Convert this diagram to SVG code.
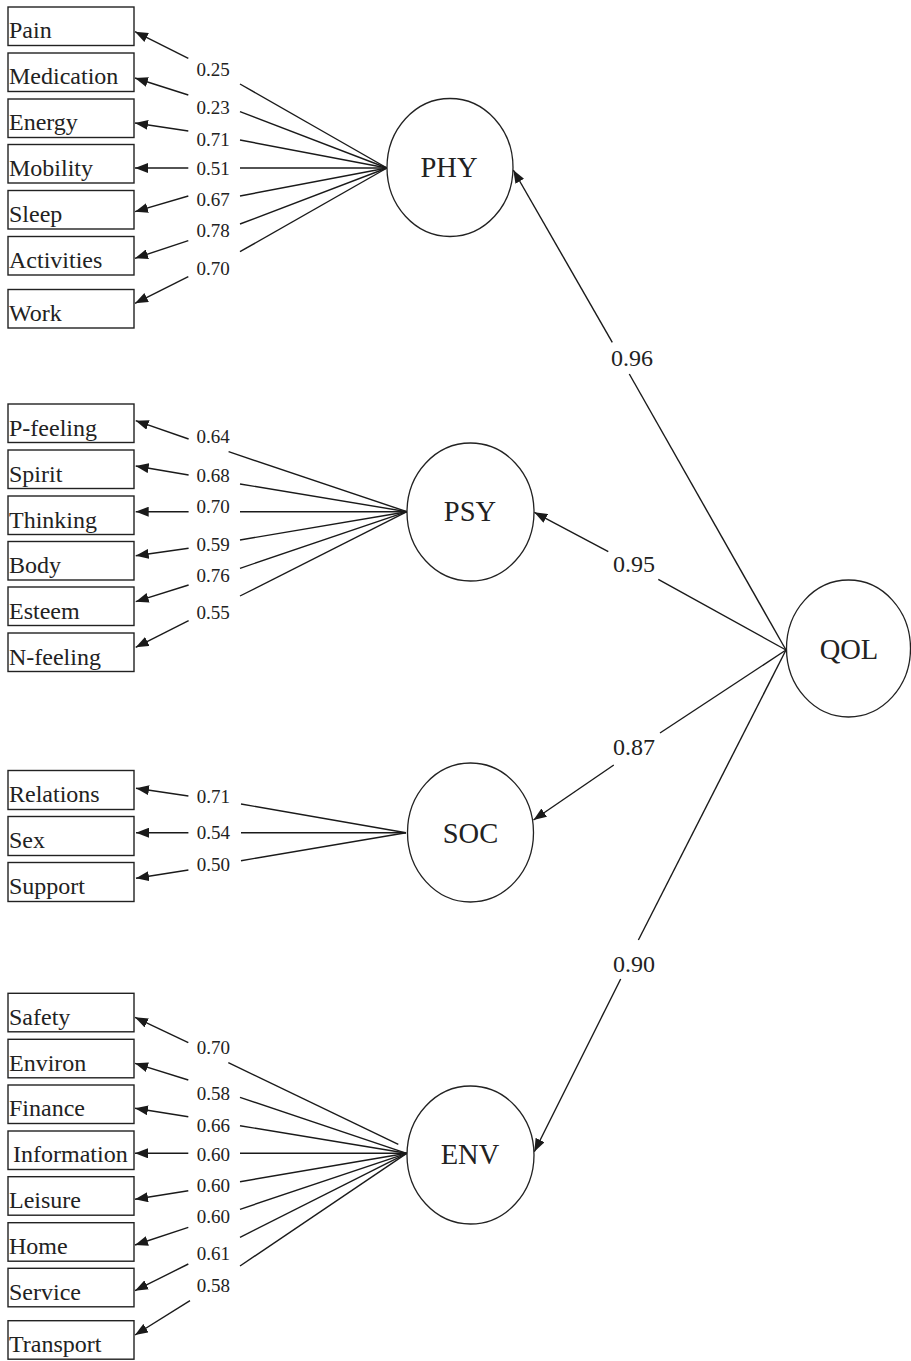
<svg xmlns="http://www.w3.org/2000/svg" width="911" height="1361" viewBox="0 0 911 1361">
<style>
.bg{fill:#fff}
.box{fill:#fff;stroke:#222;stroke-width:1.4}
.lat{fill:#fff;stroke:#222;stroke-width:1.3}
.t{font-family:"Liberation Serif","Times New Roman",serif;font-size:24px;fill:#222}
.lt{font-family:"Liberation Serif","Times New Roman",serif;font-size:28.5px;fill:#222;text-anchor:middle}
.c{font-family:"Liberation Serif","Times New Roman",serif;font-size:19px;fill:#222;text-anchor:middle}
.s{font-family:"Liberation Serif","Times New Roman",serif;font-size:24px;fill:#222;text-anchor:middle}
.ln{stroke:#1a1a1a;stroke-width:1.4;fill:none}
.ar{stroke:#1a1a1a;stroke-width:1.4;fill:none;marker-end:url(#ah)}
</style>
<defs>
<marker id="ah" viewBox="0 0 13 10" refX="13" refY="5" markerWidth="13" markerHeight="10" markerUnits="userSpaceOnUse" orient="auto">
<path d="M0,0 L13,5 L0,10 z" fill="#1a1a1a"/>
</marker>
</defs>
<rect class="bg" x="0" y="0" width="911" height="1361"/>

<g id="connectors">
<!-- PHY indicators -->
<line class="ln" x1="240" y1="84" x2="387" y2="168"/>
<line class="ln" x1="240" y1="111.7" x2="387" y2="168"/>
<line class="ln" x1="240" y1="140" x2="387" y2="168"/>
<line class="ln" x1="240" y1="168" x2="387" y2="168"/>
<line class="ln" x1="240" y1="196" x2="387" y2="168"/>
<line class="ln" x1="240" y1="224" x2="387" y2="168"/>
<line class="ln" x1="240" y1="251.7" x2="387" y2="168"/>
<line class="ar" x1="188.3" y1="58.3" x2="135" y2="31.7"/>
<line class="ar" x1="188.3" y1="95" x2="135" y2="78"/>
<line class="ar" x1="188.3" y1="131" x2="135" y2="123"/>
<line class="ar" x1="188.3" y1="168" x2="135" y2="168"/>
<line class="ar" x1="188.3" y1="196" x2="135" y2="211.7"/>
<line class="ar" x1="188.3" y1="240.7" x2="135" y2="258.3"/>
<line class="ar" x1="188.3" y1="276.7" x2="135" y2="303.3"/>
<text class="c" x="213" y="76">0.25</text>
<text class="c" x="213" y="114">0.23</text>
<text class="c" x="213" y="145.7">0.71</text>
<text class="c" x="213" y="175">0.51</text>
<text class="c" x="213" y="206">0.67</text>
<text class="c" x="213" y="237">0.78</text>
<text class="c" x="213" y="275">0.70</text>

<!-- PSY indicators -->
<line class="ln" x1="228.6" y1="451.7" x2="407" y2="511.7"/>
<line class="ln" x1="240" y1="484" x2="407" y2="511.7"/>
<line class="ln" x1="240" y1="511.7" x2="407" y2="511.7"/>
<line class="ln" x1="240" y1="540" x2="407" y2="511.7"/>
<line class="ln" x1="240" y1="568.3" x2="407" y2="511.7"/>
<line class="ln" x1="240" y1="596" x2="407" y2="511.7"/>
<line class="ar" x1="188.6" y1="439" x2="135.7" y2="420.7"/>
<line class="ar" x1="188.6" y1="475" x2="135.7" y2="466"/>
<line class="ar" x1="188.6" y1="511.7" x2="135.7" y2="511.7"/>
<line class="ar" x1="188.6" y1="548.3" x2="135.7" y2="555.7"/>
<line class="ar" x1="188.6" y1="585" x2="135.7" y2="601.7"/>
<line class="ar" x1="188.6" y1="620.7" x2="135.7" y2="647.3"/>
<text class="c" x="213" y="443.3">0.64</text>
<text class="c" x="213" y="481.7">0.68</text>
<text class="c" x="213" y="512.7">0.70</text>
<text class="c" x="213" y="550.7">0.59</text>
<text class="c" x="213" y="581.7">0.76</text>
<text class="c" x="213" y="619.3">0.55</text>

<!-- SOC indicators -->
<line class="ln" x1="241" y1="804" x2="406" y2="832.7"/>
<line class="ln" x1="241" y1="832.7" x2="406" y2="832.7"/>
<line class="ln" x1="241" y1="860.7" x2="406" y2="832.7"/>
<line class="ar" x1="188.4" y1="796" x2="136" y2="788.3"/>
<line class="ar" x1="188.4" y1="832.7" x2="136" y2="832.7"/>
<line class="ar" x1="188.4" y1="870" x2="136" y2="878.3"/>
<text class="c" x="213.4" y="802.7">0.71</text>
<text class="c" x="213.4" y="839.3">0.54</text>
<text class="c" x="213.4" y="870.7">0.50</text>

<!-- ENV indicators -->
<line class="ln" x1="228.3" y1="1062.7" x2="398.3" y2="1144.3"/>
<line class="ln" x1="240" y1="1097.3" x2="406.7" y2="1153.3"/>
<line class="ln" x1="240" y1="1125.7" x2="406.7" y2="1153.3"/>
<line class="ln" x1="240" y1="1153.3" x2="406.7" y2="1153.3"/>
<line class="ln" x1="240" y1="1181.7" x2="406.7" y2="1153.3"/>
<line class="ln" x1="240" y1="1209.3" x2="406.7" y2="1153.3"/>
<line class="ln" x1="240" y1="1237.3" x2="406.7" y2="1153.3"/>
<line class="ln" x1="240" y1="1266" x2="406.7" y2="1153.3"/>
<line class="ar" x1="188.3" y1="1042.7" x2="135" y2="1017.3"/>
<line class="ar" x1="188.3" y1="1080" x2="135" y2="1063.3"/>
<line class="ar" x1="188.3" y1="1116.7" x2="135" y2="1108.3"/>
<line class="ar" x1="188.3" y1="1153.3" x2="135" y2="1153.3"/>
<line class="ar" x1="188.3" y1="1190.7" x2="135" y2="1199.3"/>
<line class="ar" x1="188.3" y1="1227.3" x2="135" y2="1245"/>
<line class="ar" x1="188.3" y1="1264" x2="135" y2="1290.7"/>
<line class="ar" x1="190" y1="1300.7" x2="135" y2="1335"/>
<text class="c" x="213.3" y="1054">0.70</text>
<text class="c" x="213.3" y="1100">0.58</text>
<text class="c" x="213.3" y="1131.7">0.66</text>
<text class="c" x="213.3" y="1161">0.60</text>
<text class="c" x="213.3" y="1192">0.60</text>
<text class="c" x="213.3" y="1223.3">0.60</text>
<text class="c" x="213.3" y="1260">0.61</text>
<text class="c" x="213.3" y="1291.7">0.58</text>

<!-- structural paths -->
<line class="ln" x1="786" y1="650" x2="629.3" y2="374"/>
<line class="ar" x1="612.3" y1="342.3" x2="513.3" y2="170"/>
<text class="s" x="632" y="365.7">0.96</text>
<line class="ln" x1="786" y1="650" x2="658.3" y2="579.3"/>
<line class="ar" x1="608.3" y1="551.7" x2="534.3" y2="512.3"/>
<text class="s" x="634" y="572">0.95</text>
<line class="ln" x1="786" y1="650" x2="660" y2="733"/>
<line class="ar" x1="613.8" y1="765" x2="533.5" y2="820"/>
<text class="s" x="634" y="755">0.87</text>
<line class="ln" x1="786" y1="650" x2="638.4" y2="940"/>
<line class="ar" x1="620.7" y1="979" x2="534.3" y2="1151.7"/>
<text class="s" x="634" y="971.7">0.90</text>
</g>

<!-- PHY items -->
<g id="pain"><rect class="box" x="8" y="7" width="126" height="38.5"/><text class="t" x="9" y="38">Pain</text></g>
<g id="medication"><rect class="box" x="8" y="53" width="126" height="38.5"/><text class="t" x="9" y="84">Medication</text></g>
<g id="energy"><rect class="box" x="8" y="99" width="126" height="38.5"/><text class="t" x="9" y="130">Energy</text></g>
<g id="mobility"><rect class="box" x="8" y="144.5" width="126" height="38.5"/><text class="t" x="9" y="175.5">Mobility</text></g>
<g id="sleep"><rect class="box" x="8" y="190.5" width="126" height="38.5"/><text class="t" x="9" y="221.5">Sleep</text></g>
<g id="activities"><rect class="box" x="8" y="236.5" width="126" height="38.5"/><text class="t" x="9" y="267.5">Activities</text></g>
<g id="work"><rect class="box" x="8" y="289.5" width="126" height="38.5"/><text class="t" x="9" y="320.5">Work</text></g>

<!-- PSY items -->
<g id="p-feeling"><rect class="box" x="8" y="404" width="126" height="38.5"/><text class="t" x="9" y="435.5">P-feeling</text></g>
<g id="spirit"><rect class="box" x="8" y="450" width="126" height="38.5"/><text class="t" x="9" y="481.5">Spirit</text></g>
<g id="thinking"><rect class="box" x="8" y="496" width="126" height="38.5"/><text class="t" x="9" y="527.5">Thinking</text></g>
<g id="body"><rect class="box" x="8" y="541.5" width="126" height="38.5"/><text class="t" x="9" y="573">Body</text></g>
<g id="esteem"><rect class="box" x="8" y="587" width="126" height="38.5"/><text class="t" x="9" y="618.5">Esteem</text></g>
<g id="n-feeling"><rect class="box" x="8" y="633" width="126" height="38.5"/><text class="t" x="9" y="664.5">N-feeling</text></g>

<!-- SOC items -->
<g id="relations"><rect class="box" x="8" y="770.5" width="126" height="39"/><text class="t" x="9" y="802">Relations</text></g>
<g id="sex"><rect class="box" x="8" y="816.5" width="126" height="39"/><text class="t" x="9" y="848">Sex</text></g>
<g id="support"><rect class="box" x="8" y="862.5" width="126" height="39"/><text class="t" x="9" y="894">Support</text></g>

<!-- ENV items -->
<g id="safety"><rect class="box" x="8" y="993.3" width="126" height="38.5"/><text class="t" x="9" y="1024.5">Safety</text></g>
<g id="environ"><rect class="box" x="8" y="1039.3" width="126" height="38.5"/><text class="t" x="9" y="1070.5">Environ</text></g>
<g id="finance"><rect class="box" x="8" y="1085" width="126" height="38.5"/><text class="t" x="9" y="1116">Finance</text></g>
<g id="information"><rect class="box" x="8" y="1131" width="126" height="38.5"/><text class="t" x="13" y="1162">Information</text></g>
<g id="leisure"><rect class="box" x="8" y="1176.7" width="126" height="38.5"/><text class="t" x="9" y="1208">Leisure</text></g>
<g id="home"><rect class="box" x="8" y="1222.7" width="126" height="38.5"/><text class="t" x="9" y="1254">Home</text></g>
<g id="service"><rect class="box" x="8" y="1268.3" width="126" height="38.5"/><text class="t" x="9" y="1299.5">Service</text></g>
<g id="transport"><rect class="box" x="8" y="1320.7" width="126" height="38.5"/><text class="t" x="9" y="1352">Transport</text></g>

<!-- latent variables -->
<g id="PHY"><ellipse class="lat" cx="450" cy="167.5" rx="63" ry="69"/><text class="lt" x="449" y="177.3">PHY</text></g>
<g id="PSY"><ellipse class="lat" cx="470.5" cy="512" rx="63.5" ry="69"/><text class="lt" x="470" y="520.7">PSY</text></g>
<g id="SOC"><ellipse class="lat" cx="470.5" cy="832.5" rx="63" ry="69.5"/><text class="lt" x="470.5" y="842.7">SOC</text></g>
<g id="ENV"><ellipse class="lat" cx="470.5" cy="1155" rx="63.5" ry="69"/><text class="lt" x="470" y="1164">ENV</text></g>
<g id="QOL"><ellipse class="lat" cx="848.5" cy="648.5" rx="62" ry="68.5"/><text class="lt" x="849" y="659">QOL</text></g>
</svg>
